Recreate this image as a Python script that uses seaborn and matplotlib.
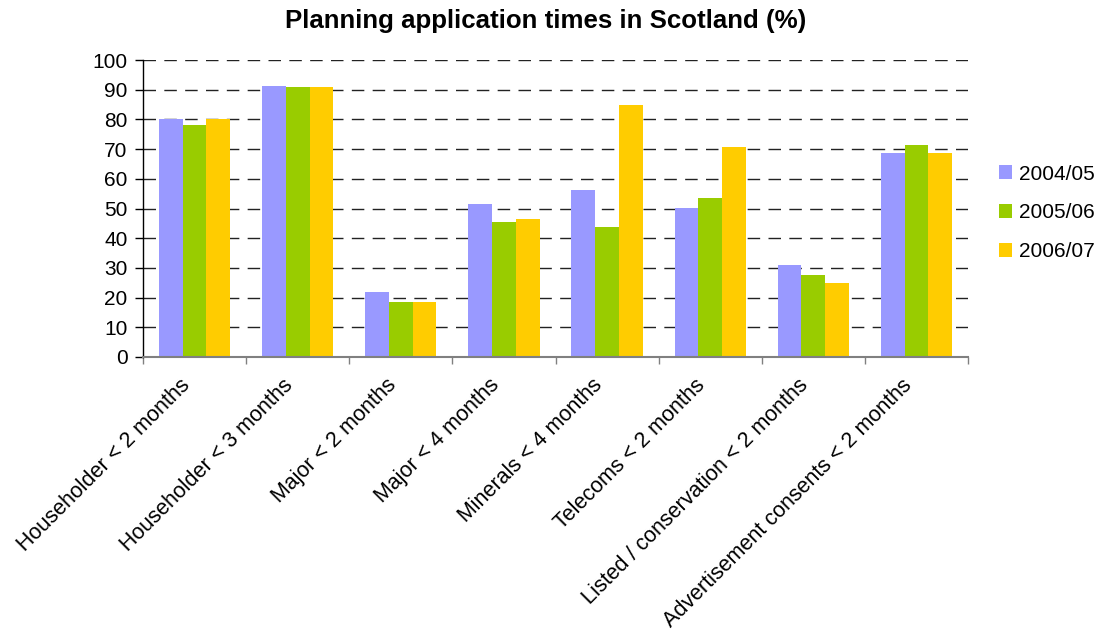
import numpy as np
import pandas as pd
import matplotlib
matplotlib.use("Agg")
import matplotlib.pyplot as plt
import matplotlib.transforms as mtransforms
import seaborn as sns

categories = [
    "Householder < 2 months",
    "Householder < 3 months",
    "Major < 2 months",
    "Major < 4 months",
    "Minerals < 4 months",
    "Telecoms < 2 months",
    "Listed / conservation < 2 months",
    "Advertisement consents < 2 months",
]
years = ["2004/05", "2005/06", "2006/07"]
v2004 = [80.2, 91.4, 22.0, 51.6, 56.3, 50.3, 31.1, 68.8]
v2005 = [78.2, 91.0, 18.6, 45.6, 43.9, 53.6, 27.7, 71.5]
v2006 = [80.2, 91.0, 18.6, 46.6, 85.0, 70.8, 25.0, 68.8]
colors = ["#9999FF", "#99CC00", "#FFCC00"]

df = pd.DataFrame({
    "category": categories * 3,
    "year": np.repeat(years, len(categories)),
    "value": v2004 + v2005 + v2006,
})

sns.set_theme(style="white")
plt.rcParams["font.family"] = ["Liberation Sans", "DejaVu Sans"]
plt.rcParams["text.color"] = "black"
plt.rcParams["xtick.color"] = "black"
plt.rcParams["ytick.color"] = "black"

fig = plt.figure(figsize=(10.99, 6.39), dpi=100)
ax = fig.add_axes([143 / 1099, 1 - 357 / 639, 825 / 1099, 297 / 639])

sns.barplot(data=df, x="category", y="value", hue="year", order=categories,
            hue_order=years, palette=colors, width=0.69, gap=0,
            saturation=1, linewidth=0, ax=ax, legend=True)

ax.set_ylim(0, 100)
ax.set_xlim(-0.5, len(categories) - 0.5)
ax.set_yticks(np.arange(0, 101, 10))
ax.set_xlabel("")
ax.set_ylabel("")

for y in range(10, 101, 10):
    ax.axhline(y, color="#222222", lw=1.0, ls=(0, (9, 6)), zorder=0.5)

ax.set_xticks(np.arange(len(categories)))
ax.set_xticklabels(categories, rotation=45, ha="right", va="center",
                   rotation_mode="anchor", fontsize=15.5, color="black")
ax.set_xticks(np.arange(-0.5, len(categories)), minor=True)
ax.tick_params(axis="x", which="major", length=0, pad=16)
ax.tick_params(axis="x", which="minor", length=5, width=1, color="#808080",
               direction="out", bottom=True)
ax.tick_params(axis="y", length=6, width=1, color="black", direction="out",
               left=True, labelsize=15, pad=5, labelcolor="black")

# nudge the slanted category labels slightly left and down
shift = mtransforms.ScaledTranslation(-8 / 100, -3 / 100, fig.dpi_scale_trans)
for lbl in ax.get_xticklabels():
    lbl.set_transform(lbl.get_transform() + shift)

for side in ["top", "right"]:
    ax.spines[side].set_visible(False)
ax.spines["left"].set_color("black")
ax.spines["left"].set_linewidth(1)
ax.spines["bottom"].set_color("#808080")
ax.spines["bottom"].set_linewidth(1.5)

handles, labels = ax.get_legend_handles_labels()
ax.get_legend().remove()
fig.legend(handles, labels, loc="center left",
           bbox_to_anchor=(980 / 1099, 1 - 213 / 639), frameon=False,
           fontsize=15, handlelength=0.65, handleheight=0.65,
           handletextpad=0.3, labelspacing=0.95, labelcolor="black")

fig.suptitle("Planning application times in Scotland (%)", fontsize=18.6,
             fontweight="bold", x=546 / 1099, y=1 - 21 / 639, va="center",
             color="black")

fig.savefig("out.png", dpi=100, facecolor="white")
